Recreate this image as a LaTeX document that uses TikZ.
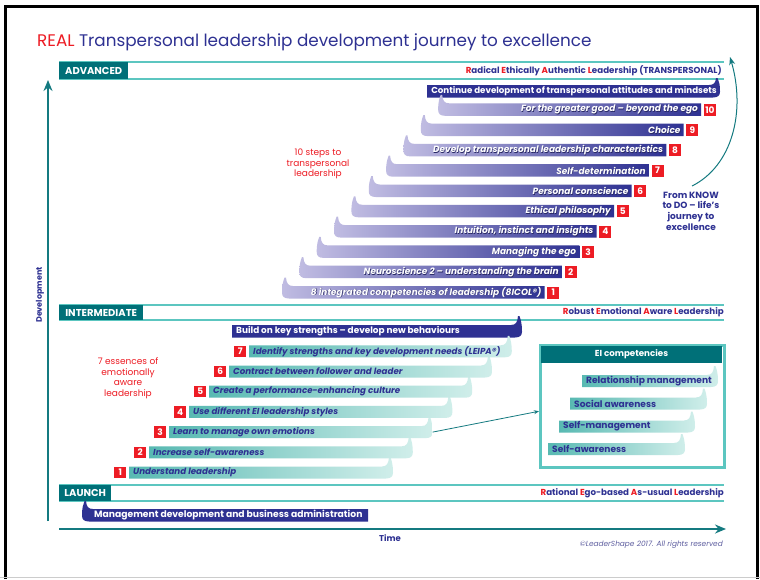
\documentclass[tikz,border=0pt]{standalone}
\usepackage{fontspec}
\setmainfont{Poppins}
\usetikzlibrary{arrows.meta}
\definecolor{navy}{RGB}{46,49,146}
\definecolor{realred}{RGB}{237,28,36}
\definecolor{darkteal}{RGB}{0,112,120}
\definecolor{lineteal}{RGB}{92,198,192}
\definecolor{axisteal}{RGB}{20,122,128}
\definecolor{tealL}{RGB}{88,185,178}
\definecolor{tealR}{RGB}{208,238,234}
\definecolor{lav}{RGB}{192,188,226}
\definecolor{lavmid}{RGB}{112,106,182}
\definecolor{shadowc}{RGB}{40,40,100}
\definecolor{copyc}{RGB}{95,95,160}
\newcommand\rl[1]{\textcolor{realred}{#1}}
\newcommand\rcurlbar[6]{\path[#6] ({#1},{#3}) -- ({#2-11},{#3}) .. controls ({#2-6},{#3}) and ({#2-4.5},{#3-#5/3}) .. ({#2-4},{#3-#5}) -- ({#2-2.5},{#3-#5}) .. controls ({#2-1},{#3-#5/2}) and ({#2},{#3-1}) .. ({#2},{#4-6}) .. controls ({#2},{#4-2}) and ({#2-2},{#4}) .. ({#2-7},{#4}) -- ({#1},{#4}) -- cycle;}
\newcommand\lcurlbar[6]{\path[#6] ({#2},{#3}) -- ({#1+11},{#3}) .. controls ({#1+6},{#3}) and ({#1+4.5},{#3-#5/3}) .. ({#1+4},{#3-#5}) -- ({#1+2.5},{#3-#5}) .. controls ({#1+1},{#3-#5/2}) and ({#1},{#3-1}) .. ({#1},{#4-6}) .. controls ({#1},{#4-2}) and ({#1+2},{#4}) .. ({#1+7},{#4}) -- ({#2},{#4}) -- cycle;}
\tikzset{
  bandline/.style={draw=lineteal, line width=1.6pt},
  hdr/.style={fill=darkteal, text=white, font=\bfseries\fontsize{10}{12}\selectfont, inner sep=0pt, minimum height=17pt, anchor=north west},
  bandlabel/.style={text=navy, font=\bfseries\fontsize{8.7}{10}\selectfont, inner sep=0pt, anchor=east},
  numbox/.style={fill=realred, text=white, font=\bfseries\fontsize{9}{10}\selectfont, inner xsep=1.5pt, inner ysep=0pt, minimum width=12pt, minimum height=12pt, anchor=north west},
  ptext/.style={text=white, font=\bfseries\itshape\fontsize{9}{10}\selectfont, inner sep=0pt, anchor=east},
  pshadow/.style={text=shadowc, font=\bfseries\itshape\fontsize{9}{10}\selectfont, inner sep=0pt, anchor=east},
  ttext/.style={text=navy, font=\bfseries\itshape\fontsize{8.7}{10}\selectfont, inner sep=0pt, anchor=west},
  wtext/.style={text=white, font=\bfseries\fontsize{8.9}{10}\selectfont, inner sep=0pt},
  eitext/.style={text=navy, font=\bfseries\fontsize{9.1}{10}\selectfont, inner sep=0pt, anchor=west},
  redtext/.style={text=realred, font=\fontsize{9}{10.5}\selectfont, align=center, inner sep=0pt},
  axis/.style={draw=axisteal, line width=1.8pt, -{Stealth[length=11pt,width=9pt]}},
}
\begin{document}
\begin{tikzpicture}[x=1pt,y=-1pt]
\useasboundingbox (0,0) rectangle (760,579);
\fill[white] (0,0) rectangle (760,579);
% frame
\draw[black, line width=3pt] (5,579) -- (5,6) -- (757,6) -- (757,579);
\draw[gray!40, line width=1pt] (0,577.5) -- (760,577.5);

% title
\node[anchor=base west, inner sep=0pt, font=\fontsize{16.8}{20}\selectfont, text=navy] (title) at (37,46) {\rl{REAL} Transpersonal leadership development journey to excellence};

% bands
\foreach \yt/\yb in {62/79, 305/320, 485/501}{
  \draw[bandline] (59,\yt) -- (724,\yt);
  \draw[bandline] (59,\yb) -- (724,\yb);
}
\node[hdr, minimum width=69pt] (adv) at (59,62) {ADVANCED};
\node[hdr, minimum width=84pt, minimum height=15pt] (inter) at (59,305) {INTERMEDIATE};
\node[hdr, minimum width=52pt, minimum height=16pt] (launch) at (59,485) {LAUNCH};
\node[bandlabel] (advlab) at (722,71) {\rl{R}adical \rl{E}thically \rl{A}uthentic \rl{L}eadership (TRANSPERSONAL)};
\node[bandlabel] (interlab) at (724,312.5) {\rl{R}obust \rl{E}motional \rl{A}ware \rl{L}eadership};
\node[bandlabel] (launchlab) at (724,493) {\rl{R}ational \rl{E}go-based \rl{A}s-usual \rl{L}eadership};

% axes
\coordinate (dev0) at (48,521);
\coordinate (dev1) at (48,80);
\draw[axis] (dev0) -- (dev1);
\coordinate (time0) at (59,529);
\coordinate (time1) at (726,529);
\draw[axis] (time0) -- (time1);
\node[rotate=90, text=navy, font=\bfseries\fontsize{8}{9}\selectfont, inner sep=0pt] (devlab) at (40,295) {Development};
\node[text=navy, font=\bfseries\fontsize{8.5}{9}\selectfont, inner sep=0pt] (timelab) at (390,538) {Time};
\node[anchor=east, text=copyc, font=\itshape\fontsize{7.4}{8}\selectfont, inner sep=0pt] (copy) at (723,545) {©LeaderShape 2017. All rights reserved};

% top navy bar (advanced)
\rcurlbar{427}{720}{85}{97.5}{7}{fill=navy}
\node[wtext, font=\bfseries\fontsize{8.7}{10}\selectfont] (cont) at (574,91.5) {Continue development of transpersonal attitudes and mindsets};

% purple staircase
\foreach \i/\txt in {1/{8 integrated competencies of leadership (8ICOL®)},
  2/{Neuroscience 2 – understanding the brain},
  3/{Managing the ego},
  4/{Intuition, instinct and insights},
  5/{Ethical philosophy},
  6/{Personal conscience},
  7/{Self-determination},
  8/{Develop transpersonal leadership characteristics},
  9/{Choice},
  10/{For the greater good – beyond the ego}}{
  \pgfmathsetmacro\xL{282+(\i-1)*17.35}
  \pgfmathsetmacro\yT{286-(\i-1)*20.3}
  \pgfmathsetmacro\xB{547+(\i-1)*17.4}
  \pgfmathsetmacro\xR{\xB-2.5}
  \pgfmathsetmacro\yB{\yT+12.5}
  \pgfmathsetmacro\yM{\yT+6.5}
  \lcurlbar{\xL}{\xR}{\yT}{\yB}{8.5}{left color=lav, middle color=lavmid, right color=navy}
  \node[pshadow] (ps\i) at ({\xR-2.4},{\yM+0.6}) {\txt};
  \node[ptext] (p\i) at ({\xR-3},{\yM}) {\txt};
  \node[numbox] (pn\i) at ({\xB},{\yT+0.3}) {\i};
}
\node[redtext] (tensteps) at (318,164) {10 steps to\\transpersonal\\leadership};
\node[text=navy, font=\bfseries\fontsize{9}{10.7}\selectfont, align=center, inner sep=0pt] (know) at (691,211) {From KNOW\\to DO – life's\\journey to\\excellence};
\coordinate (knowstart) at (692,186);
\coordinate (knowend) at (730,57);
\draw[draw=axisteal, line width=1pt, -{Stealth[length=8pt,width=6pt]}] (knowstart) .. controls (732,166) and (746,112) .. (knowend);

% intermediate navy bar
\rcurlbar{232}{522}{325}{337.5}{9}{fill=navy}
\node[wtext, anchor=west] (build) at (236,331.5) {Build on key strengths – develop new behaviours};

% teal staircase
\foreach \i/\txt in {1/{Understand leadership},
  2/{Increase self-awareness},
  3/{Learn to manage own emotions},
  4/{Use different EI leadership styles},
  5/{Create a performance-enhancing culture},
  6/{Contract between follower and leader},
  7/{Identify strengths and key development needs (LEIPA®)}}{
  \pgfmathsetmacro\xB{114+(\i-1)*20}
  \pgfmathsetmacro\yT{466.5-(\i-1)*20.2}
  \pgfmathsetmacro\xL{\xB+15}
  \pgfmathsetmacro\xR{393+(\i-1)*19.8}
  \pgfmathsetmacro\yB{\yT+12}
  \pgfmathsetmacro\yM{\yT+6}
  \rcurlbar{\xL}{\xR}{\yT}{\yB}{9.5}{left color=tealL, right color=tealR}
  \node[ttext] (t\i) at ({\xL+4},{\yM}) {\txt};
  \node[numbox, minimum height=11.5pt] (tn\i) at ({\xB},{\yT}) {\i};
  \coordinate (tend\i) at ({\xR},{\yM});
}
\node[redtext] (essences) at (128,378) {7 essences of\\emotionally\\aware\\leadership};

% EI competencies box
\node[draw=lineteal, line width=2.5pt, minimum width=184pt, minimum height=122pt, inner sep=0pt, anchor=north west] (eibox) at (539,344) {};
\fill[darkteal] (541,345.5) rectangle (722,363);
\node[text=white, font=\bfseries\fontsize{8.7}{10}\selectfont, inner sep=0pt] (eihead) at (631.5,354.5) {EI competencies};
\rcurlbar{582}{718}{375}{387}{9}{left color=tealL, right color=tealR}
\node[eitext] (rm) at (586,381) {Relationship management};
\rcurlbar{570}{707}{397.5}{409.5}{9}{left color=tealL, right color=tealR}
\node[eitext] (sa) at (574,403.5) {Social awareness};
\rcurlbar{559}{695}{420.5}{432.5}{9}{left color=tealL, right color=tealR}
\node[eitext] (sm) at (563,426.5) {Self-management};
\rcurlbar{548}{685}{443}{455}{9}{left color=tealL, right color=tealR}
\node[eitext] (saw) at (552,449) {Self-awareness};
\draw[draw=axisteal, line width=0.8pt, -{Stealth[length=5pt,width=4pt]}] (tend3) -- ([yshift=-5pt]eibox.west);

% launch bar
\lcurlbar{82}{368}{509}{521.5}{8}{fill=navy}
\node[wtext, anchor=west, font=\bfseries\fontsize{9.2}{10}\selectfont] (mgmt) at (94,515.5) {Management development and business administration};
\end{tikzpicture}
\end{document}
